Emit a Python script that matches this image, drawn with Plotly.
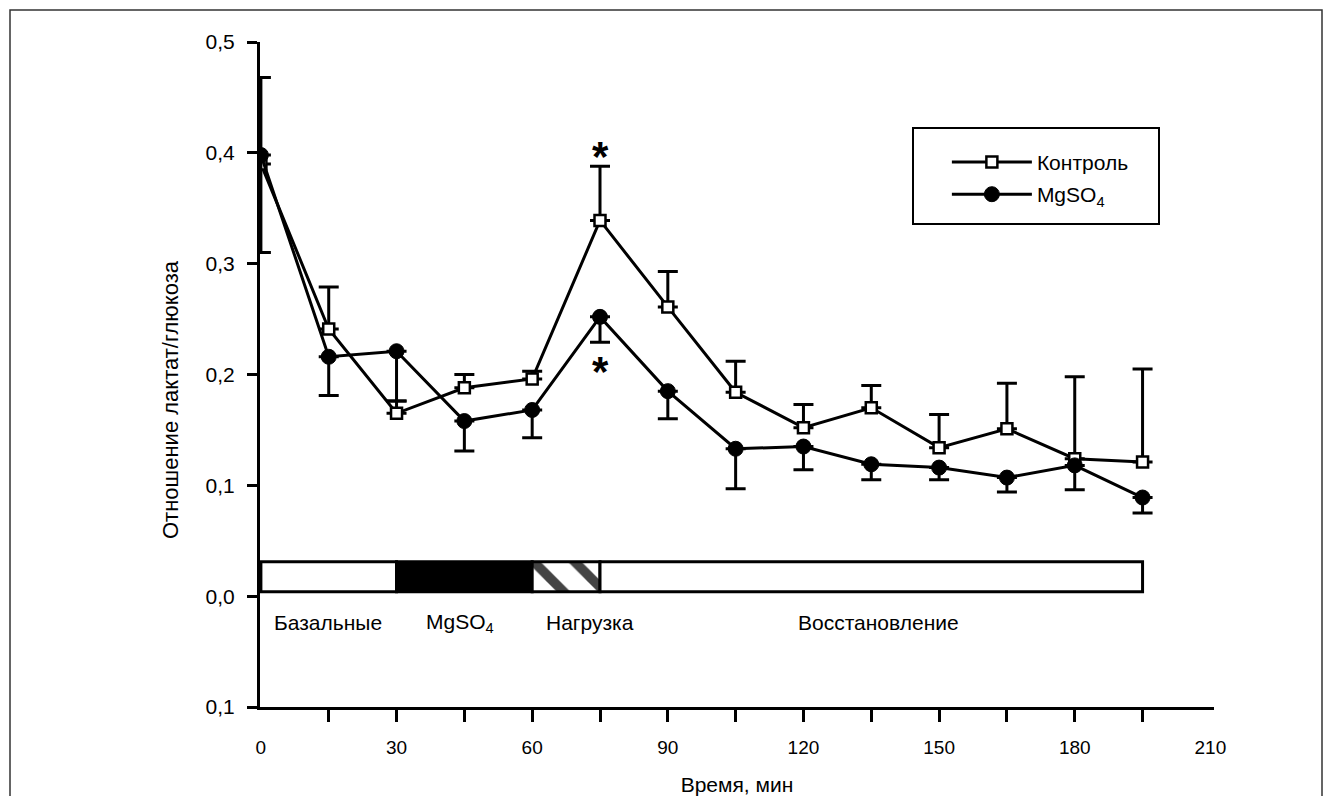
import plotly.graph_objects as go

# ---- data ----
time_min = [0, 15, 30, 45, 60, 75, 90, 105, 120, 135, 150, 165, 180, 195]
control = [0.390, 0.241, 0.165, 0.188, 0.196, 0.339, 0.261, 0.184, 0.152, 0.170, 0.134, 0.151, 0.124, 0.121]
control_err_up = [0.078, 0.038, 0.011, 0.012, 0.007, 0.049, 0.032, 0.028, 0.021, 0.020, 0.030, 0.041, 0.074, 0.084]
mgso4 = [0.398, 0.216, 0.221, 0.158, 0.168, 0.252, 0.185, 0.133, 0.135, 0.119, 0.116, 0.107, 0.118, 0.089]
mgso4_err_down = [0.088, 0.035, 0.045, 0.027, 0.025, 0.023, 0.025, 0.036, 0.021, 0.014, 0.011, 0.013, 0.022, 0.014]

series_names = ["Контроль", "MgSO<sub>4</sub>"]

# protocol bar segments (start, duration)
phase_start = [0, 30, 60, 75]
phase_length = [30, 30, 15, 120]
phase_fill = ["white", "black", "white", "white"]
phase_pattern = ["", "", "\\", ""]
phase_labels = ["Базальные", "MgSO<sub>4</sub>", "Нагрузка", "Восстановление"]
phase_label_x = [14.8, 44, 72.8, 136.5]
bar_center = 0.0175
bar_height = 0.027
phase_label_y = -0.024

# significance marks
star_x = [75, 75]
star_y = [0.403, 0.209]

y_tickvals = [0.5, 0.4, 0.3, 0.2, 0.1, 0.0, -0.1]
y_ticktext = ["0,5", "0,4", "0,3", "0,2", "0,1", "0,0", "0,1"]
x_minor_ticks = list(range(15, 196, 15))
x_label_ticks = list(range(0, 211, 30))
x_ticktext = [str(v) for v in x_label_ticks]

y_title = "Отношение лактат/глюкоза"
x_title = "Время, мин"

FONT = "Liberation Sans, Arial, sans-serif"

fig = go.Figure()

fig.add_trace(go.Scatter(
    x=time_min, y=control, name=series_names[0], mode="lines+markers",
    line=dict(color="black", width=3),
    marker=dict(symbol="square", size=11, color="white", line=dict(color="black", width=2.5)),
    error_y=dict(type="data", array=control_err_up, arrayminus=[0] * len(control),
                 symmetric=False, color="black", thickness=3, width=10),
    legendgroup="a",
))
fig.add_trace(go.Scatter(
    x=time_min, y=mgso4, name=series_names[1], mode="lines+markers",
    line=dict(color="black", width=3),
    marker=dict(symbol="circle", size=15, color="black", line=dict(color="black", width=1)),
    error_y=dict(type="data", array=[0] * len(mgso4), arrayminus=mgso4_err_down,
                 symmetric=False, color="black", thickness=3, width=10),
    legendgroup="b",
))

fig.add_trace(go.Bar(
    y=[bar_center] * len(phase_start), x=phase_length, base=phase_start,
    orientation="h", width=bar_height,
    marker=dict(color=phase_fill, line=dict(color="black", width=3),
                pattern=dict(shape=phase_pattern, fgcolor="black", bgcolor="white",
                             fgopacity=1, size=29, solidity=0.33, fillmode="overlay")),
    xaxis="x2", yaxis="y", showlegend=False, hoverinfo="skip",
))

annotations = []
for lx, lt in zip(phase_label_x, phase_labels):
    annotations.append(dict(x=lx, y=phase_label_y, xref="x", yref="y", text=lt,
                            showarrow=False, font=dict(size=21, family=FONT, color="black")))
for sx, sy in zip(star_x, star_y):
    annotations.append(dict(x=sx, y=sy, xref="x", yref="y", text="<b>*</b>",
                            showarrow=False, yshift=-7,
                            font=dict(size=42, family=FONT, color="black")))
annotations.append(dict(x=(170 - 260) / 954, y=(707 - 400) / 665, xref="paper", yref="paper",
                        text=y_title, textangle=-90, showarrow=False,
                        xanchor="center", yanchor="middle",
                        font=dict(size=22, family=FONT, color="black")))

fig.update_layout(
    width=1333, height=796,
    margin=dict(l=260, r=119, t=42, b=89),
    paper_bgcolor="white", plot_bgcolor="white",
    font=dict(family=FONT, size=20, color="black"),
    showlegend=True,
    legend=dict(x=0.72, y=0.85, xanchor="left", yanchor="top",
                bgcolor="rgba(0,0,0,0)", borderwidth=0,
                font=dict(size=21, family=FONT), itemwidth=80, tracegroupgap=2),
    xaxis=dict(range=[-0.2, 210.8], showline=True, linecolor="black", linewidth=3,
               tickvals=x_minor_ticks, ticks="outside", ticklen=12, tickwidth=3,
               tickcolor="black", showticklabels=False, showgrid=False, zeroline=False,
               automargin=False),
    xaxis2=dict(range=[-0.2, 210.8], overlaying="x", side="bottom", showline=False,
                tickvals=x_label_ticks, ticktext=x_ticktext, ticks="outside", ticklen=23,
                tickcolor="rgba(0,0,0,0)", showgrid=False, zeroline=False,
                tickfont=dict(size=19, family=FONT), automargin=False,
                title=dict(text=x_title, standoff=25, font=dict(size=21, family=FONT))),
    yaxis=dict(range=[-0.1, 0.5], showline=True, linecolor="black", linewidth=3,
               tickvals=y_tickvals, ticktext=y_ticktext, ticks="outside", ticklen=10,
               tickwidth=3, tickcolor="black", showgrid=False, zeroline=False,
               tickfont=dict(size=21, family=FONT), automargin=False,
               ticklabelstandoff=8),
    annotations=annotations,
    shapes=[
        dict(type="rect", xref="paper", yref="paper",
             x0=(913 - 260) / 954, x1=(1159 - 260) / 954,
             y0=(707 - 224) / 665, y1=(707 - 128) / 665,
             line=dict(color="black", width=2), fillcolor="rgba(0,0,0,0)"),
        dict(type="rect", xref="paper", yref="paper",
             x0=(10 - 260) / 954, x1=(1322 - 260) / 954,
             y0=(707 - 820) / 665, y1=(707 - 10) / 665,
             line=dict(color="#333333", width=1.5), fillcolor="rgba(0,0,0,0)", layer="below"),
    ],
)

fig.write_html("out.html", config={"displayModeBar": False},
               post_script="document.body.style.margin='0';document.body.style.overflow='hidden';")
